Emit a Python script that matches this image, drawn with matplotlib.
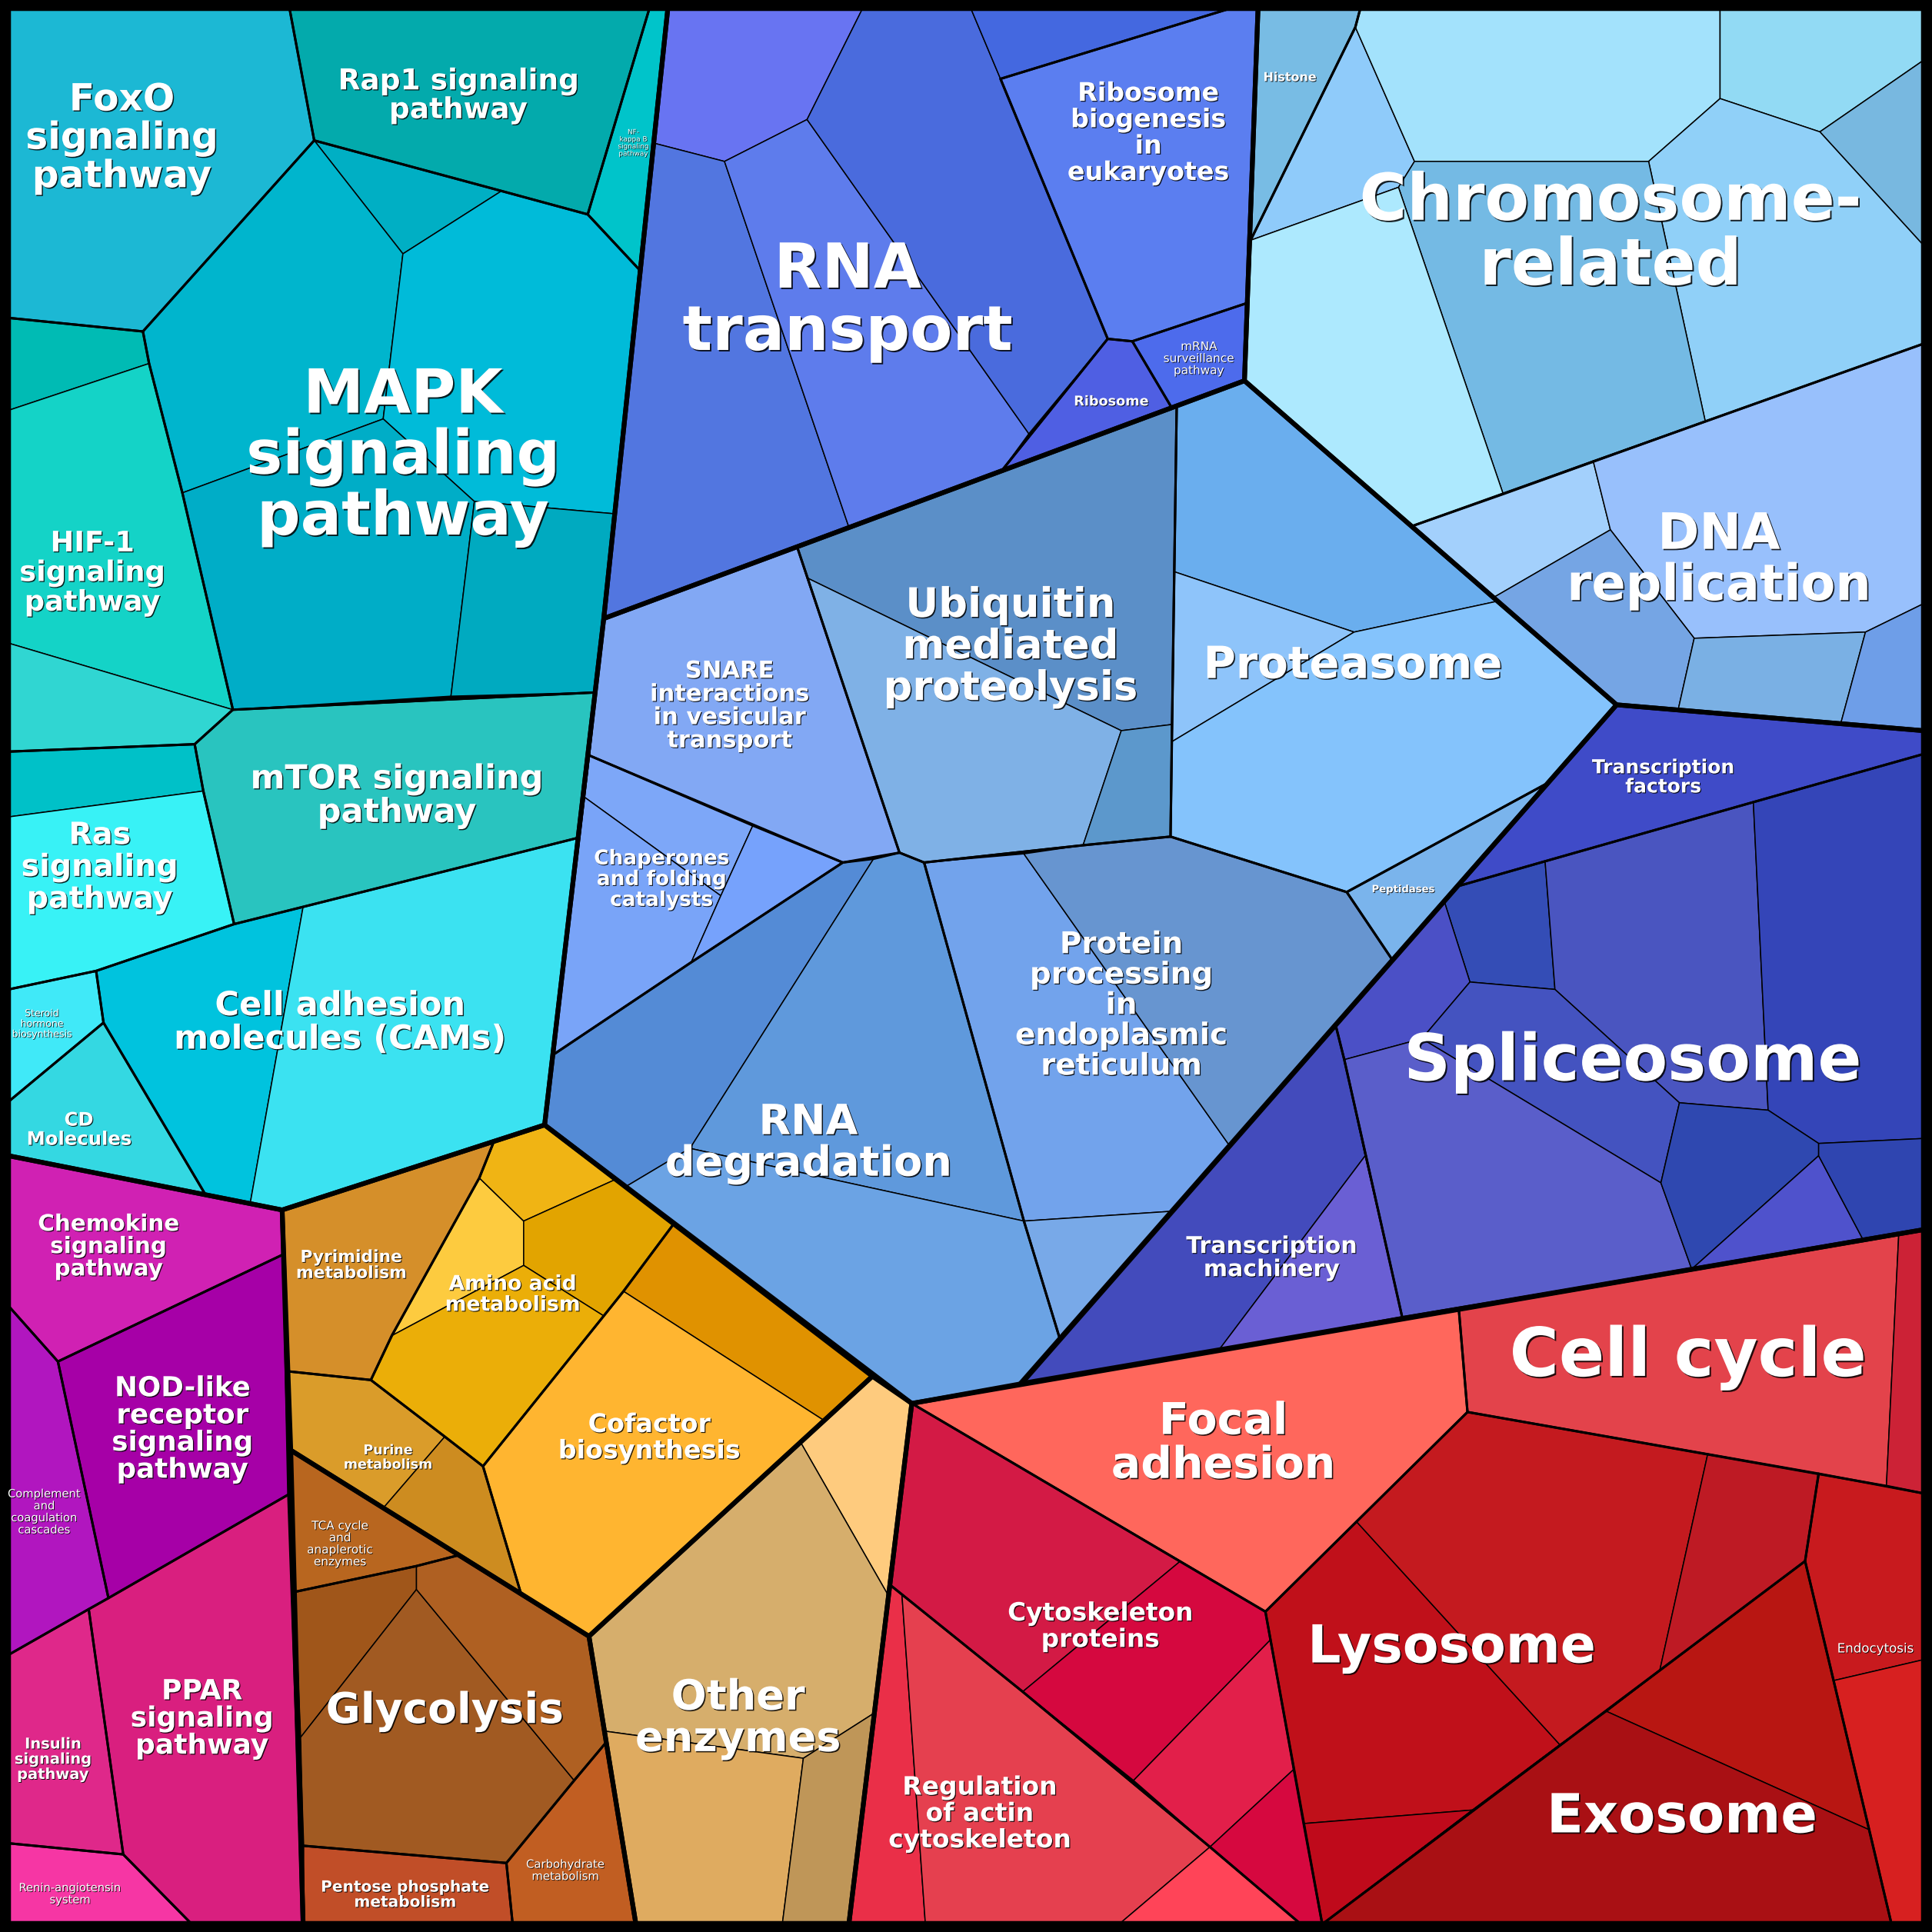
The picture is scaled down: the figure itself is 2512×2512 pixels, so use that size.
import matplotlib
matplotlib.use("Agg")
import matplotlib.pyplot as plt
from matplotlib.patches import Polygon
import matplotlib.patheffects as pe

# ---------------- data: Voronoi treemap cells (display units, 0..1568, y down) ----------------
# region tuple: (name, colour or None, outline polygon, list of (colour, cell polygon) or None)

sig_outline = [(7, 7), (542, 7), (490, 502), (442, 913), (229, 982), (7, 938)]
sig_regions = [
    ("FoxO", "#1CB8D4", [(7, 7), (235, 7), (255, 114), (116, 269), (7, 258)], None),
    ("Rap1", "#03AAAC", [(235, 7), (527, 7), (477, 174), (407, 155), (255, 114)], None),
    ("NF-kappa B", "#00C4CA", [(527, 7), (542, 7), (519, 219), (477, 174)], None),
    ("MAPK", None, [(255, 114), (407, 155), (477, 174), (519, 219), (499, 417), (483, 562), (189, 576),
                    (148, 400), (121, 295), (116, 269)], [
        ("#00AFC4", [(255, 114), (407, 155), (327, 206)]),
        ("#00B5CD", [(255, 114), (327, 206), (311, 340), (148, 400), (121, 295), (116, 269)]),
        ("#00BBD9", [(407, 155), (477, 174), (519, 219), (499, 417), (385, 407), (311, 340), (327, 206)]),
        ("#00ADC7", [(148, 400), (311, 340), (385, 407), (366, 565), (189, 576)]),
        ("#00AAC0", [(385, 407), (499, 417), (483, 562), (366, 565)]),
    ]),
    ("HIF-1", None, [(7, 258), (116, 269), (121, 295), (148, 400), (189, 576), (158, 604), (7, 610)], [
        ("#00BBB4", [(7, 258), (116, 269), (121, 295), (7, 333)]),
        ("#14D3C7", [(7, 333), (121, 295), (148, 400), (189, 576), (7, 522)]),
        ("#30D6D2", [(7, 522), (189, 576), (158, 604), (7, 610)]),
    ]),
    ("mTOR", "#29C4BF", [(158, 604), (189, 576), (483, 562), (469, 680), (246, 736), (190, 750), (165, 642)], None),
    ("Ras", None, [(7, 610), (158, 604), (165, 642), (190, 750), (78, 788), (7, 803)], [
        ("#00C1C8", [(7, 610), (158, 604), (165, 642), (7, 663)]),
        ("#38F2F6", [(7, 663), (165, 642), (190, 750), (78, 788), (7, 803)]),
    ]),
    ("CAMs", None, [(78, 788), (190, 750), (246, 736), (469, 680), (442, 913), (229, 982), (203, 977),
                    (167, 970), (84, 830)], [
        ("#00C3DE", [(78, 788), (190, 750), (246, 736), (203, 977), (167, 970), (84, 830)]),
        ("#3BE2F1", [(246, 736), (469, 680), (442, 913), (229, 982), (203, 977)]),
    ]),
    ("Steroid", "#40E9F8", [(7, 803), (78, 788), (84, 830), (7, 894)], None),
    ("CD", "#34D8E2", [(7, 894), (84, 830), (167, 970), (7, 938)], None),
]

trl_outline = [(542, 7), (1021, 7), (1010, 309), (490, 502)]
trl_regions = [
    ("RNA transport", None, [(542, 7), (998, 7), (812, 64), (899, 275), (813, 382), (490, 502)], [
        ("#6874F2", [(542, 7), (700, 7), (655, 97), (588, 131), (530, 116)]),
        ("#5276E0", [(530, 116), (588, 131), (689, 428), (490, 502)]),
        ("#5E7CEC", [(588, 131), (655, 97), (835, 352), (813, 382), (689, 428)]),
        ("#4A6BDD", [(700, 7), (788, 7), (812, 64), (899, 275), (835, 352), (655, 97)]),
        ("#4468E0", [(788, 7), (998, 7), (812, 64)]),
    ]),
    ("Ribosome biogenesis", "#5B7EF0", [(812, 64), (998, 7), (1021, 7), (1012, 246), (919, 277), (899, 275)], None),
    ("mRNA surveillance", "#4D6BEC", [(919, 277), (1012, 246), (1010, 309), (951, 331)], None),
    ("Ribosome", "#4F5FE3", [(899, 275), (919, 277), (951, 331), (813, 382)], None),
]

fold_outline = [(490, 502), (1010, 309), (1312, 572), (829, 1123), (740, 1139), (442, 913)]
fold_regions = [
    ("SNARE", "#82A8F4", [(490, 502), (647, 444), (730, 692), (684, 700), (478, 613)], None),
    ("Chaperones", None, [(478, 613), (611, 670), (684, 700), (561, 781), (449, 856)], [
        ("#7DA7F8", [(478, 613), (611, 670), (585, 727), (473, 646)]),
        ("#79A4F8", [(473, 646), (585, 727), (561, 781), (449, 856)]),
        ("#76A2FC", [(611, 670), (684, 700), (561, 781), (585, 727)]),
    ]),
    ("Ubiquitin", None, [(647, 444), (955, 330), (950, 679), (879, 686), (750, 700), (730, 692)], [
        ("#5B8FC8", [(647, 444), (955, 330), (953, 464), (951, 588), (910, 593), (655, 469)]),
        ("#7FB1E6", [(655, 469), (910, 593), (879, 686), (750, 700), (730, 692)]),
        ("#5C98CC", [(910, 593), (951, 588), (951, 602), (950, 679), (879, 686)]),
    ]),
    ("Proteasome", None, [(955, 330), (1010, 309), (1312, 572), (1257, 635), (1093, 724), (950, 679),
                          (951, 602), (953, 464)], [
        ("#6AAEEE", [(955, 330), (1010, 309), (1215, 488), (1099, 513), (953, 464)]),
        ("#8EC4FA", [(953, 464), (1099, 513), (951, 602)]),
        ("#84C3FC", [(1099, 513), (1215, 488), (1312, 572), (1257, 635), (1093, 724), (950, 679), (951, 602)]),
    ]),
    ("Peptidases", "#7AB4EC", [(1257, 635), (1130, 779), (1093, 724)], None),
    ("Protein processing", None, [(750, 700), (879, 686), (950, 679), (1093, 724), (1130, 779), (998, 930),
                                  (952, 983), (860, 1086), (831, 991)], [
        ("#72A3EC", [(750, 700), (831, 693), (998, 930), (952, 983), (831, 991)]),
        ("#6795D0", [(831, 693), (879, 686), (950, 679), (1093, 724), (1130, 779), (998, 930)]),
        ("#78A9E8", [(831, 991), (952, 983), (860, 1086)]),
    ]),
    ("RNA degradation", None, [(449, 856), (561, 781), (684, 700), (709, 697), (730, 692), (750, 700),
                               (831, 991), (860, 1086), (829, 1123), (740, 1139), (508, 963), (442, 913)], [
        ("#548BD6", [(449, 856), (561, 781), (684, 700), (709, 697), (560, 932), (508, 963), (442, 913)]),
        ("#5F99DC", [(709, 697), (730, 692), (750, 700), (831, 991), (560, 932)]),
        ("#6BA3E4", [(508, 963), (560, 932), (831, 991), (860, 1086), (829, 1123), (740, 1139)]),
    ]),
]

chr_outline = [(1021, 7), (1561, 7), (1561, 593), (1312, 572), (1010, 309)]
chr_regions = [
    ("Histone", "#78BCE4", [(1021, 7), (1104, 7), (1100, 22), (1015, 195)], None),
    ("Chromosome-related", None, [(1104, 7), (1561, 7), (1561, 279), (1384, 342), (1220, 401), (1146, 427),
                                  (1010, 309), (1015, 195), (1100, 22)], [
        ("#8FCBFA", [(1100, 22), (1148, 131), (1135, 152), (1015, 195)]),
        ("#A3E2FC", [(1104, 7), (1396, 7), (1396, 80), (1338, 131), (1148, 131), (1100, 22)]),
        ("#92DAF4", [(1396, 7), (1561, 7), (1561, 49), (1477, 107), (1396, 80)]),
        ("#78B8E0", [(1561, 49), (1561, 199), (1477, 107)]),
        ("#90D0F8", [(1396, 80), (1477, 107), (1561, 199), (1561, 279), (1384, 342), (1338, 131)]),
        ("#74BAE4", [(1148, 131), (1338, 131), (1384, 342), (1220, 401), (1135, 152)]),
        ("#ADE9FE", [(1015, 195), (1135, 152), (1220, 401), (1146, 427), (1010, 309)]),
    ]),
    ("DNA replication", None, [(1146, 427), (1561, 279), (1561, 593), (1312, 572)], [
        ("#A3D0FC", [(1146, 427), (1293, 374), (1307, 430), (1212, 485)]),
        ("#98C0FC", [(1293, 374), (1561, 279), (1561, 490), (1514, 513), (1375, 518), (1307, 430)]),
        ("#75A5E4", [(1212, 485), (1307, 430), (1375, 518), (1362, 576), (1312, 572)]),
        ("#7AB0E4", [(1375, 518), (1514, 513), (1494, 587), (1362, 576)]),
        ("#6E9EE8", [(1514, 513), (1561, 490), (1561, 593), (1494, 587)]),
    ]),
]

tsc_outline = [(1312, 572), (1561, 593), (1561, 998), (828, 1123)]
tsc_regions = [
    ("Transcription factors", "#3F4BC8", [(1312, 572), (1561, 593), (1561, 612), (1423, 651), (1254, 699),
                                          (1184, 719)], None),
    ("Spliceosome", None, [(1184, 719), (1254, 699), (1423, 651), (1561, 612), (1561, 998), (1512, 1006),
                           (1373, 1030), (1138, 1069), (1091, 860), (1084, 832), (1172, 731)], [
        ("#344DB6", [(1184, 719), (1254, 699), (1262, 803), (1193, 797), (1172, 731)]),
        ("#4B50C6", [(1172, 731), (1193, 797), (1154, 843), (1091, 860), (1084, 832)]),
        ("#4A55C0", [(1254, 699), (1423, 651), (1435, 901), (1363, 895), (1262, 803)]),
        ("#3445B8", [(1423, 651), (1561, 612), (1561, 924), (1476, 928), (1435, 901)]),
        ("#4453C0", [(1193, 797), (1262, 803), (1363, 895), (1348, 960), (1154, 843)]),
        ("#5A5ECA", [(1091, 860), (1154, 843), (1348, 960), (1373, 1030), (1138, 1069)]),
        ("#2F48B0", [(1363, 895), (1435, 901), (1476, 928), (1476, 938), (1373, 1030), (1348, 960)]),
        ("#4F52CC", [(1476, 938), (1512, 1006), (1373, 1030)]),
        ("#2F45B0", [(1476, 928), (1561, 924), (1561, 998), (1512, 1006), (1476, 938)]),
    ]),
    ("Transcription machinery", None, [(1084, 832), (1091, 860), (1138, 1069), (989, 1096), (828, 1123)], [
        ("#434BBC", [(1084, 832), (1091, 860), (1108, 938), (989, 1096), (828, 1123)]),
        ("#6A5FD4", [(1108, 938), (1138, 1069), (989, 1096)]),
    ]),
]

cel_outline = [(740, 1139), (1561, 998), (1561, 1561), (689, 1561)]
cel_regions = [
    ("Focal adhesion", "#FF675C", [(740, 1139), (1184, 1063), (1191, 1146), (1027, 1308)], None),
    ("Cell cycle", None, [(1184, 1063), (1561, 998), (1561, 1212), (1531, 1206), (1191, 1146)], [
        ("#E3434B", [(1184, 1063), (1541, 1002), (1531, 1206), (1191, 1146)]),
        ("#CC2236", [(1541, 1002), (1561, 998), (1561, 1212), (1531, 1206)]),
    ]),
    ("Cytoskeleton proteins", None, [(740, 1139), (1027, 1308), (1058, 1480), (1073, 1561), (1055, 1561),
                                     (982, 1499), (830, 1373), (722, 1286)], [
        ("#D31A45", [(740, 1139), (958, 1267), (830, 1373), (722, 1286)]),
        ("#D5083F", [(958, 1267), (1027, 1308), (1031, 1331), (920, 1445), (830, 1373)]),
        ("#E21F4A", [(1031, 1331), (1050, 1436), (982, 1499), (920, 1445)]),
        ("#D6083F", [(1050, 1436), (1073, 1561), (1055, 1561), (982, 1499)]),
    ]),
    ("Regulation of actin", None, [(722, 1286), (830, 1373), (982, 1499), (1055, 1561), (689, 1561)], [
        ("#EA2F48", [(722, 1286), (732, 1294), (751, 1561), (689, 1561)]),
        ("#E5404F", [(732, 1294), (830, 1373), (982, 1499), (909, 1561), (751, 1561)]),
        ("#FF4458", [(982, 1499), (1055, 1561), (909, 1561)]),
    ]),
    ("Lysosome", None, [(1027, 1308), (1191, 1146), (1476, 1196), (1465, 1267), (1074, 1561), (1073, 1561)], [
        ("#C0101A", [(1027, 1308), (1101, 1235), (1266, 1416), (1195, 1469), (1058, 1480)]),
        ("#C41A1F", [(1101, 1235), (1191, 1146), (1386, 1180), (1347, 1356), (1304, 1389), (1266, 1416)]),
        ("#BE1A24", [(1386, 1180), (1476, 1196), (1465, 1267), (1347, 1356)]),
        ("#BF0A1B", [(1058, 1480), (1195, 1469), (1074, 1561), (1073, 1561)]),
    ]),
    ("Exosome", None, [(1465, 1267), (1517, 1485), (1535, 1561), (1074, 1561)], [
        ("#B81612", [(1347, 1356), (1465, 1267), (1517, 1485), (1304, 1389)]),
        ("#A91014", [(1304, 1389), (1517, 1485), (1535, 1561), (1074, 1561), (1195, 1469), (1266, 1416)]),
    ]),
    ("Endocytosis", None, [(1476, 1196), (1561, 1212), (1561, 1561), (1535, 1561), (1517, 1485), (1465, 1267)], [
        ("#C81A1E", [(1476, 1196), (1561, 1212), (1561, 1347), (1488, 1364), (1465, 1267)]),
        ("#D72020", [(1488, 1364), (1561, 1347), (1561, 1561), (1535, 1561), (1517, 1485)]),
    ]),
]

nuc_outline = [(229, 982), (442, 913), (708, 1117), (478, 1328), (236, 1177)]
nuc_regions = [
    ("Pyrimidine", "#D58F2A", [(229, 982), (401, 926), (389, 956), (318, 1084), (301, 1120), (234, 1113)], None),
    ("Amino acid", None, [(389, 956), (401, 926), (442, 913), (500, 957), (547, 993), (506, 1048), (490, 1068),
                          (392, 1190), (361, 1166), (301, 1120), (318, 1084)], [
        ("#FDCB3F", [(389, 956), (425, 991), (425, 1027), (318, 1084)]),
        ("#F0B414", [(401, 926), (442, 913), (500, 957), (425, 991), (389, 956)]),
        ("#E2A400", [(425, 991), (500, 957), (547, 993), (506, 1048), (490, 1068), (425, 1027)]),
        ("#EBAE08", [(318, 1084), (425, 1027), (490, 1068), (392, 1190), (361, 1166), (301, 1120)]),
    ]),
    ("Cofactor", None, [(547, 993), (708, 1117), (478, 1328), (423, 1294), (392, 1190), (490, 1068), (506, 1048)], [
        ("#E09200", [(547, 993), (708, 1117), (669, 1153), (506, 1048)]),
        ("#FFB530", [(506, 1048), (669, 1153), (478, 1328), (423, 1294), (392, 1190), (490, 1068)]),
    ]),
    ("Purine", None, [(234, 1113), (301, 1120), (361, 1166), (392, 1190), (423, 1294), (311, 1224), (236, 1177)], [
        ("#DA9C2A", [(234, 1113), (301, 1120), (361, 1166), (311, 1224), (236, 1177)]),
        ("#CD8C20", [(361, 1166), (392, 1190), (423, 1294), (311, 1224)]),
    ]),
]

eng_outline = [(236, 1177), (478, 1328), (516, 1561), (246, 1561)]
eng_regions = [
    ("TCA", "#B8661F", [(236, 1177), (373, 1262), (338, 1271), (239, 1292)], None),
    ("Glycolysis", None, [(239, 1292), (338, 1271), (373, 1262), (478, 1328), (492, 1414), (466, 1445),
                          (411, 1512), (246, 1498)], [
        ("#A0561A", [(239, 1292), (338, 1271), (338, 1290), (244, 1410)]),
        ("#A15A22", [(338, 1290), (466, 1445), (411, 1512), (246, 1498), (244, 1410)]),
        ("#AF6022", [(338, 1271), (373, 1262), (478, 1328), (492, 1414), (466, 1445), (338, 1290)]),
    ]),
    ("Carbohydrate", "#C15E22", [(466, 1445), (492, 1414), (516, 1561), (416, 1561), (411, 1512)], None),
    ("Pentose phosphate", "#C14E28", [(246, 1498), (411, 1512), (416, 1561), (246, 1561)], None),
]

oth_outline = [(478, 1328), (708, 1117), (740, 1139), (689, 1561), (516, 1561)]
oth_regions = [
    ("Other enzymes", None, [(478, 1328), (708, 1117), (740, 1139), (689, 1561), (516, 1561)], [
        ("#FECB7E", [(650, 1171), (708, 1117), (740, 1139), (721, 1295)]),
        ("#D6AE6C", [(478, 1328), (650, 1171), (721, 1295), (710, 1390), (652, 1427), (491, 1405)]),
        ("#DFAB60", [(491, 1405), (652, 1427), (635, 1561), (516, 1561)]),
        ("#BF9658", [(652, 1427), (710, 1390), (689, 1561), (635, 1561)]),
    ]),
]

imm_outline = [(7, 938), (229, 982), (246, 1561), (7, 1561)]
imm_regions = [
    ("Chemokine", "#D021B3", [(7, 938), (229, 982), (230, 1018), (47, 1105), (7, 1060)], None),
    ("NOD-like", "#A600A7", [(47, 1105), (230, 1018), (234, 1213), (88, 1297)], None),
    ("Complement", "#B116BF", [(7, 1060), (47, 1105), (88, 1297), (72, 1306), (7, 1343)], None),
    ("PPAR", "#D91F7F", [(72, 1306), (88, 1297), (234, 1213), (246, 1561), (155, 1561), (100, 1505)], None),
    ("Insulin", "#DF288A", [(7, 1343), (72, 1306), (100, 1505), (7, 1496)], None),
    ("Renin", "#F636A4", [(7, 1496), (100, 1505), (155, 1561), (7, 1561)], None),
]

# label text, centre x, centre y, font size (pt), weight
labels = [
    ("FoxO\nsignaling\npathway", 99, 112, 35, "bold"),
    ("Rap1 signaling\npathway", 372, 78, 27, "bold"),
    ("NF-\nkappa B\nsignaling\npathway", 514, 116, 6.4, "normal"),
    ("MAPK\nsignaling\npathway", 327, 371, 57, "bold"),
    ("HIF-1\nsignaling\npathway", 75, 465, 26.5, "bold"),
    ("mTOR signaling\npathway", 322, 646, 31, "bold"),
    ("Ras\nsignaling\npathway", 81, 704, 28.5, "bold"),
    ("Cell adhesion\nmolecules (CAMs)", 276, 830, 31, "bold"),
    ("Steroid\nhormone\nbiosynthesis", 34, 831, 9, "normal"),
    ("CD\nMolecules", 64, 917, 17.5, "bold"),
    ("RNA\ntransport", 688, 245, 58, "bold"),
    ("Ribosome\nbiogenesis\nin\neukaryotes", 932, 108, 24, "bold"),
    ("mRNA\nsurveillance\npathway", 973, 291, 11, "normal"),
    ("Ribosome", 902, 326, 12.7, "bold"),
    ("SNARE\ninteractions\nin vesicular\ntransport", 592, 573, 22, "bold"),
    ("Chaperones\nand folding\ncatalysts", 537, 714, 19, "bold"),
    ("Ubiquitin\nmediated\nproteolysis", 820, 525, 38, "bold"),
    ("Proteasome", 1098, 540, 41.5, "bold"),
    ("Peptidases", 1139, 722, 9.5, "bold"),
    ("Protein\nprocessing\nin\nendoplasmic\nreticulum", 910, 816, 28, "bold"),
    ("RNA\ndegradation", 656, 928, 39, "bold"),
    ("Histone", 1047, 63, 11.5, "bold"),
    ("Chromosome-\nrelated", 1307, 190, 60.5, "bold"),
    ("DNA\nreplication", 1395, 455, 47, "bold"),
    ("Transcription\nfactors", 1350, 631, 18, "bold"),
    ("Spliceosome", 1325, 862, 60.5, "bold"),
    ("Transcription\nmachinery", 1032, 1021, 21.6, "bold"),
    ("Focal\nadhesion", 993, 1172, 41, "bold"),
    ("Cell cycle", 1370, 1102, 63, "bold"),
    ("Cytoskeleton\nproteins", 893, 1320, 23.6, "bold"),
    ("Lysosome", 1178, 1338, 49, "bold"),
    ("Regulation\nof actin\ncytoskeleton", 795, 1472, 23.7, "bold"),
    ("Exosome", 1365, 1475, 50.5, "bold"),
    ("Endocytosis", 1522, 1338, 12, "normal"),
    ("Pyrimidine\nmetabolism", 285, 1027, 15.7, "bold"),
    ("Amino acid\nmetabolism", 416, 1051, 19.2, "bold"),
    ("Purine\nmetabolism", 315, 1183, 12.6, "bold"),
    ("Cofactor\nbiosynthesis", 527, 1167, 24, "bold"),
    ("TCA cycle\nand\nanaplerotic\nenzymes", 276, 1253, 11, "normal"),
    ("Glycolysis", 361, 1389, 39.6, "bold"),
    ("Pentose phosphate\nmetabolism", 329, 1538, 14.5, "bold"),
    ("Carbohydrate\nmetabolism", 459, 1518, 10.7, "normal"),
    ("Other\nenzymes", 599, 1395, 39, "bold"),
    ("Chemokine\nsignaling\npathway", 88, 1012, 21.2, "bold"),
    ("NOD-like\nreceptor\nsignaling\npathway", 148, 1160, 25.7, "bold"),
    ("Complement\nand\ncoagulation\ncascades", 36, 1227, 10.6, "normal"),
    ("PPAR\nsignaling\npathway", 164, 1395, 26, "bold"),
    ("Insulin\nsignaling\npathway", 43, 1428, 14, "bold"),
    ("Renin-angiotensin\nsystem", 57, 1537, 10.6, "normal"),
]

groups = [
    (sig_outline, sig_regions), (trl_outline, trl_regions), (fold_outline, fold_regions),
    (chr_outline, chr_regions), (tsc_outline, tsc_regions), (cel_outline, cel_regions),
    (nuc_outline, nuc_regions), (eng_outline, eng_regions), (oth_outline, oth_regions),
    (imm_outline, imm_regions),
]

# ---------------- drawing ----------------
SIZE = 1568
THIN, MED, THICK = 1.1, 2.2, 4.4

fig = plt.figure(figsize=(25.12, 25.12), dpi=100, facecolor="black")
ax = fig.add_axes([0, 0, 1, 1])
ax.set_xlim(0, SIZE)
ax.set_ylim(SIZE, 0)
ax.set_facecolor("black")
ax.axis("off")

for g_outline, regions in groups:
    for name, color, outline, cells in regions:
        cell_list = cells if cells is not None else [(color, outline)]
        for c, poly in cell_list:
            ax.add_patch(Polygon(poly, closed=True, facecolor=c, edgecolor="black",
                                 linewidth=THIN, joinstyle="round", zorder=1))
        ax.add_patch(Polygon(outline, closed=True, fill=False, edgecolor="black",
                             linewidth=MED, joinstyle="round", zorder=2))
    ax.add_patch(Polygon(g_outline, closed=True, fill=False, edgecolor="black",
                         linewidth=THICK, joinstyle="round", zorder=3))

for text, x, y, fs, wt in labels:
    off = 0.5 + fs * 0.015
    ax.text(x, y, text, ha="center", va="center", multialignment="center",
            fontsize=fs, fontweight=wt, color="white", family="DejaVu Sans",
            linespacing=1.05, zorder=5,
            path_effects=[pe.withSimplePatchShadow(offset=(off, -off), shadow_rgbFace="black", alpha=0.85)])

fig.savefig("out.png", dpi=100, facecolor="black")
